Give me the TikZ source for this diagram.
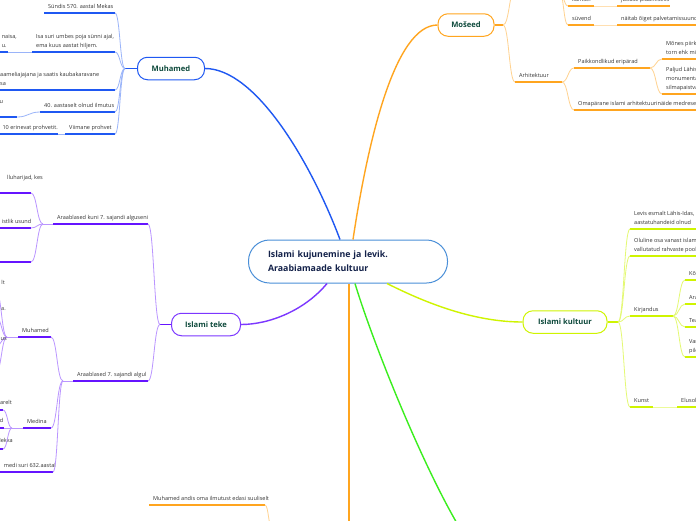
\documentclass[tikz,border=0pt]{standalone}
\usepackage{fontspec}
\setmainfont{Open Sans}
\usetikzlibrary{calc}
\definecolor{bl}{HTML}{1F58F2}
\definecolor{pu}{HTML}{6514FF}
\definecolor{or}{HTML}{FFA51F}
\definecolor{li}{HTML}{CFF400}
\definecolor{gr}{HTML}{3BEE1E}
\definecolor{cb}{HTML}{4A8FD8}
\definecolor{tg}{HTML}{0E4A3C}
\definecolor{tn}{HTML}{14224A}
\definecolor{tx}{HTML}{333333}
\tikzset{
  brace/.style={to path={.. controls ($(\tikztostart)!0.5!(\tikztostart -| \tikztotarget)$) and ($(\tikztotarget)!0.5!(\tikztotarget -| \tikztostart)$) .. (\tikztotarget)}},
  topic/.style={draw, rounded corners=10, line width=1pt, fill=white, minimum height=22.5, inner sep=0, font=\fontsize{7.6}{9}\selectfont\bfseries, text=tg},
  lbl/.style={inner sep=0, font=\fontsize{5.55}{9}\selectfont, text=tx, align=left, text depth=1.2pt},
  ul/.style={line width=1.7pt},
  cn/.style={line width=0.8pt},
  mainline/.style={line width=1.4pt},
}
\newcommand\uline[5]{\coordinate (#2a) at (#3,#5); \coordinate (#2b) at (#4,#5); \draw[ul,#1] (#2a) -- (#2b);}
\newcommand\ltext[3]{\node[lbl,anchor=south west] (#1) at ($(#2a)+(4,-2.8)$) {#3};}
\begin{document}
\begin{tikzpicture}[x=1pt,y=-1pt]
\useasboundingbox (0,0) rectangle (696,520);
\clip (0,0) rectangle (696,520);
\fill[white] (0,0) rectangle (696,520);

% ---------- central and main topics
\node[draw=cb, line width=1pt, rounded corners=21, minimum width=199, minimum height=43, text width=160, align=left, inner sep=0, fill=white, font=\fontsize{8.8}{14}\selectfont\bfseries, text=tn] (c) at (348,261.5) {Islami kujunemine ja levik.\\Araabiamaade kultuur};
\node[topic, draw=bl, minimum width=67] (muh) at (171,68.5) {Muhamed};
\node[topic, draw=pu!85, minimum width=69] (teke) at (206,324.5) {Islami teke};
\node[topic, draw=or, minimum width=56] (mos) at (466,25) {Mošeed};
\node[topic, draw=li, minimum width=84] (kul) at (565,322) {Islami kultuur};

\coordinate (cB) at ($(c.north)+(-8,0)$);
\coordinate (cO) at ($(c.north)+(5,0)$);
\coordinate (cO2) at ($(c.south)+(1,0)$);
\coordinate (cG) at ($(c.south)+(7,0)$);
\coordinate (cP) at ($(c.south)+(-21,0)$);
\coordinate (cL) at ($(c.south)+(39,0)$);
\coordinate (oEnd) at (349,525);
\coordinate (gEnd) at (458,525);
\draw[mainline,bl] (cB) .. controls (310,160) and (255,68.5) .. (muh.east);
\draw[mainline,or] (cO) .. controls (368,140) and (395,25) .. (mos.west);
\draw[mainline,or] (cO2) -- (oEnd);
\draw[mainline,gr] (cG) .. controls (372,340) and (420,460) .. (gEnd);
\draw[mainline,pu!85] (cP) .. controls (305,310) and (270,324.5) .. (teke.east);
\draw[mainline,li] (cL) .. controls (420,300) and (470,322) .. (kul.west);

% ---------- Muhamed
\coordinate (mf) at (125,68.5);
\draw[ul,bl] (muh.west) -- (mf);
\uline{bl}{m1}{44}{115}{13} \ltext{m1t}{m1}{Sündis 570. aastal Mekas}
\uline{bl}{m2}{32}{115}{52} \ltext{m2t}{m2}{Isa suri umbes poja sünni ajal,\\ema kuus aastat hiljem.}
\uline{bl}{m3}{-40}{115}{90} \node[lbl,anchor=south west] (m3t) at (0,87.2) {aameliajajana ja saatis kaubakaravane\\sa};
\uline{bl}{m4}{40}{115}{112} \ltext{m4t}{m4}{40. aastaselt olnud ilmutus}
\uline{bl}{m5}{65}{115}{134} \ltext{m5t}{m5}{Viimane prohvet}
\foreach \n in {m1,m2,m3,m4,m5} \draw[cn,bl!45] (mf) to[brace] (\n b);
\uline{bl}{mg}{-30}{8}{52} \node[lbl,anchor=south east] (mgt) at (17,49.2) {naisa,\\u.};
\draw[cn,bl!45] (mgb) -- (m2a);
\uline{bl}{mh}{-30}{17}{117} \node[lbl,anchor=west] (mht) at (-0.5,103) {u};
\draw[cn,bl!45] (mhb) to[brace] (m4a);
\uline{bl}{mk}{-30}{58}{134} \node[lbl,anchor=south east] (mkt) at (58,131.2) {10 erinevat prohvetit.};
\draw[cn,bl!45] (mkb) -- (m5a);

% ---------- Islami teke
\coordinate (tf) at (160,324.5);
\draw[ul,pu] (teke.west) -- (tf);
\uline{pu}{ta}{53}{148}{224} \ltext{tat}{ta}{Araablased kuni 7. sajandi alguseni}
\uline{pu}{tb}{73}{148}{381} \ltext{tbt}{tb}{Araablased 7. sajandi algul}
\draw[cn,pu!45] (tf) to[brace] (tab);
\draw[cn,pu!45] (tf) to[brace] (tbb);
\coordinate (taf) at (43,224);
\draw[cn,pu!45] (taa) -- (taf);
\uline{pu}{tc}{-30}{31}{193} \node[lbl,anchor=east] (tct) at (43,178) {lluharijad, kes};
\uline{pu}{td}{-30}{31}{228} \node[lbl,anchor=east] (tdt) at (31.5,222) {istlik usund};
\uline{pu}{te}{-30}{31}{262}
\foreach \n in {tc,td,te} \draw[cn,pu!45] (taf) to[brace] (\n b);
\coordinate (tbf) at (63,381);
\draw[cn,pu!45] (tba) -- (tbf);
\uline{pu}{u1}{18}{51}{337} \ltext{u1t}{u1}{Muhamed}
\uline{pu}{u2}{23}{51}{428} \ltext{u2t}{u2}{Medina}
\uline{pu}{u3}{-30}{53}{472} \node[lbl,anchor=east] (u3t) at (56,465.5) {medi suri 632.aastal};
\foreach \n in {u1,u2,u3} \draw[cn,pu!45] (tbf) to[brace] (\n b);
\coordinate (u1f) at (7,337);
\draw[cn,pu!45] (u1a) -- (u1f);
\coordinate (g1) at (-4,291); \coordinate (g2) at (-4,317); \coordinate (g3) at (-4,346); \coordinate (g4) at (-4,372);
\foreach \n in {g1,g2,g3,g4} \draw[cn,pu!45] (u1f) to[brace] (\n);
\node[lbl,anchor=east] (gt1) at (5,283) {lt};
\node[lbl,anchor=east] (gt2) at (6,310) {a.};
\node[lbl,anchor=east] (gt3) at (7,340) {us};
\coordinate (u2f) at (12,428);
\draw[cn,pu!45] (u2a) -- (u2f);
\uline{pu}{h1}{-30}{3}{410} \node[lbl,anchor=east] (h1t) at (12,403) {arelt};
\uline{pu}{h2}{-30}{4}{428} \node[lbl,anchor=east] (h2t) at (3.5,421) {d};
\uline{pu}{h3}{-30}{3}{449} \node[lbl,anchor=east] (h3t) at (13,441) {Mekka};
\foreach \n in {h1,h2,h3} \draw[cn,pu!45] (u2f) to[brace] (\n b);

% ---------- bottom orange
\uline{or}{bo}{149}{265}{505} \ltext{bot}{bo}{Muhamed andis oma ilmutust edasi suuliselt}
\coordinate (bof) at (272,528);
\draw[cn,or!50] (bob) to[brace] (bof);

% ---------- Mošeed
\coordinate (mof) at (503,25);
\draw[ul,or] (mos.east) -- (mof);
\coordinate (moUp) at (516,-14);
\draw[cn,or!50] (mof) to[brace] (moUp);
\coordinate (sf) at (559,-10);
\uline{or}{k1}{568}{594}{6} \ltext{k1t}{k1}{kantsel}
\uline{or}{k2}{617}{670}{6} \ltext{k2t}{k2}{jutluse pidamiseks}
\draw[cn,or!35] (k1b) -- (k2a);
\uline{or}{s1}{568}{594}{25} \ltext{s1t}{s1}{süvend}
\uline{or}{s2}{617}{700}{25} \ltext{s2t}{s2}{näitab õiget palvetamissuunda}
\draw[cn,or!35] (s1b) -- (s2a);
\draw[cn,or!50] (sf) to[brace] (k1a);
\draw[cn,or!50] (sf) to[brace] (s1a);
\uline{or}{ar}{515}{562}{82} \ltext{art}{ar}{Arhitektuur}
\draw[cn,or!50] (mof) to[brace] (ara);
\uline{or}{p1}{574}{650}{68} \ltext{p1t}{p1}{Paikkondlikud eripärad}
\uline{or}{p2}{574}{700}{110} \ltext{p2t}{p2}{Omapärane islami arhitektuurinäide medresed}
\draw[cn,or!50] (arb) to[brace] (p1a);
\draw[cn,or!50] (arb) to[brace] (p2a);
\uline{or}{q1}{662}{700}{59} \ltext{q1t}{q1}{Mõnes piirkonnas\\torn ehk minarett}
\uline{or}{q2}{662}{700}{94} \ltext{q2t}{q2}{Paljud Lähis-Ida\\monumentaalsed\\silmapaistvad}
\draw[cn,or!50] (p1b) to[brace] (q1a);
\draw[cn,or!50] (p1b) to[brace] (q2a);

% ---------- Islami kultuur
\coordinate (kf) at (618,322);
\draw[ul,li] (kul.east) -- (kf);
\uline{li}{l1}{630}{700}{229} \ltext{l1t}{l1}{Levis esmalt Lähis-Idas,\\aastatuhandeid olnud}
\uline{li}{l2}{630}{700}{256} \ltext{l2t}{l2}{Oluline osa vanast islami\\vallutatud rahvaste pool}
\uline{li}{l3}{630}{673}{316} \ltext{l3t}{l3}{Kirjandus}
\uline{li}{l4}{630}{653}{407} \ltext{l4t}{l4}{Kunst}
\uline{li}{l5}{677}{700}{407} \ltext{l5t}{l5}{Elusolendite kujutamine}
\draw[cn,li!40] (l4b) -- (l5a);
\foreach \n in {l1,l2,l3,l4} \draw[cn,li!55] (kf) to[brace] (\n a);
\uline{li}{r1}{685}{700}{280} \ltext{r1t}{r1}{Kõrbeluule}
\uline{li}{r2}{685}{700}{304} \ltext{r2t}{r2}{Araabia}
\uline{li}{r3}{685}{700}{327} \ltext{r3t}{r3}{Teadus}
\uline{li}{r4}{685}{700}{357} \ltext{r4t}{r4}{Vanad\\pildid}
\foreach \n in {r1,r2,r3,r4} \draw[cn,li!55] (l3b) to[brace] (\n a);
\end{tikzpicture}
\end{document}
